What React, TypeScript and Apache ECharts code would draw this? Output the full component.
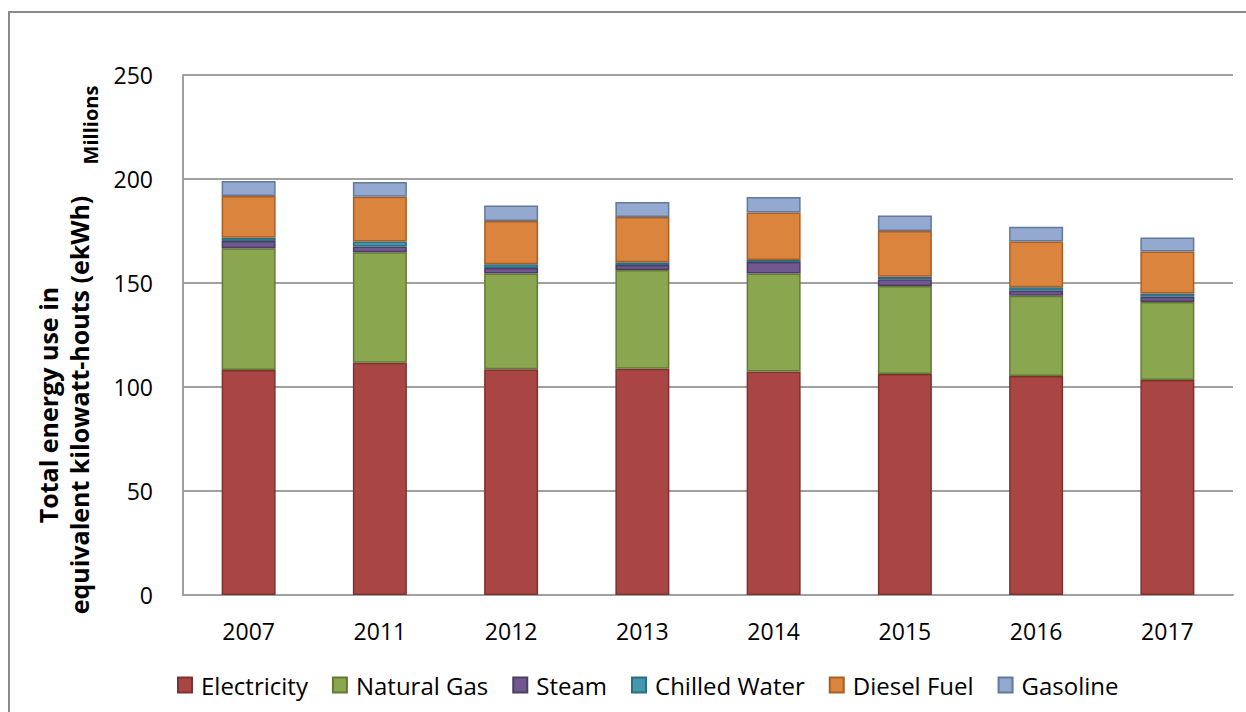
import React, { useEffect, useRef } from "react";
import * as echarts from "echarts";

const years = ["2007", "2011", "2012", "2013", "2014", "2015", "2016", "2017"];
const electricity = [108.2, 111.7, 108.5, 108.8, 107.4, 106.3, 105.3, 103.4];
const naturalGas = [58.5, 53.1, 46.1, 47.5, 47.2, 42.3, 38.6, 37.5];
const steam = [3.5, 2.7, 2.6, 2.4, 5.5, 3.2, 2.4, 2.5];
const chilledWater = [1.6, 2.4, 1.8, 1.3, 0.9, 1.2, 1.6, 1.6];
const dieselFuel = [20.0, 21.6, 20.8, 21.7, 22.9, 22.0, 22.0, 20.2];
const gasoline = [7.2, 7.1, 7.4, 7.2, 7.5, 7.4, 7.2, 6.7];
const yTicks = [0, 50, 100, 150, 200, 250];

const seriesDefs = [
  { name: "Electricity", data: electricity, color: "#A94644", border: "#7E3230" },
  { name: "Natural Gas", data: naturalGas, color: "#8AA64F", border: "#637A36" },
  { name: "Steam", data: steam, color: "#71588F", border: "#4E3C66" },
  { name: "Chilled Water", data: chilledWater, color: "#4198AF", border: "#2B6E80" },
  { name: "Diesel Fuel", data: dieselFuel, color: "#DB843D", border: "#A95F24" },
  { name: "Gasoline", data: gasoline, color: "#93A9CF", border: "#62789C" },
];

const FONT = "'Open Sans', 'Noto Sans', sans-serif";

export default function App() {
  const ref = useRef<HTMLDivElement>(null);
  useEffect(() => {
    if (!ref.current) return;
    const chart = echarts.init(ref.current, undefined, { renderer: "svg" });
    chart.setOption({
      animation: false,
      backgroundColor: "#ffffff",
      grid: { left: 183, top: 75, width: 1050, height: 520 },
      legend: {
        top: 668,
        left: 172,
        itemWidth: 14,
        itemHeight: 15,
        itemGap: 24,
        icon: "rect",
        textStyle: { fontFamily: FONT, fontSize: 24, color: "#000", padding: [0, 0, 0, 4] },
        data: seriesDefs.map((s) => s.name),
      },
      xAxis: {
        type: "category",
        data: years,
        axisLine: { show: true, lineStyle: { color: "#a0a0a0", width: 2 } },
        axisTick: { show: false },
        axisLabel: { fontFamily: FONT, fontSize: 23, color: "#000", margin: 24 },
      },
      yAxis: {
        type: "value",
        min: yTicks[0],
        max: yTicks[yTicks.length - 1],
        interval: 50,
        axisLine: { show: true, lineStyle: { color: "#a0a0a0", width: 2 } },
        axisTick: { show: false },
        splitLine: { lineStyle: { color: "#a0a0a0", width: 2 } },
        axisLabel: { fontFamily: FONT, fontSize: 23, color: "#000", margin: 30 },
      },
      graphic: [
        {
          type: "rect",
          shape: { x: 9, y: 12, width: 1260, height: 720 },
          style: { fill: "none", stroke: "#8a8a8a", lineWidth: 2 },
          silent: true,
        },
        {
          type: "text",
          x: 63,
          y: 405,
          rotation: Math.PI / 2,
          style: {
            text: "Total energy use in\nequivalent kilowatt-houts (ekWh)",
            fontFamily: FONT,
            fontSize: 25,
            fontWeight: "bold",
            fill: "#000",
            align: "center",
            verticalAlign: "middle",
            lineHeight: 31,
          },
        },
        {
          type: "text",
          x: 90,
          y: 125,
          rotation: Math.PI / 2,
          style: {
            text: "Millions",
            fontFamily: FONT,
            fontSize: 20,
            fontWeight: "bold",
            fill: "#000",
            align: "center",
            verticalAlign: "middle",
          },
        },
      ],
      series: seriesDefs.map((s) => ({
        name: s.name,
        type: "bar",
        stack: "total",
        barWidth: 54,
        data: s.data,
        itemStyle: { color: s.color, borderColor: s.border, borderWidth: 1.5 },
      })),
    });
    return () => chart.dispose();
  }, []);
  return (
    <div
      ref={ref}
      style={{ position: "fixed", left: 0, top: 0, width: 1246, height: 712 }}
    />
  );
}
